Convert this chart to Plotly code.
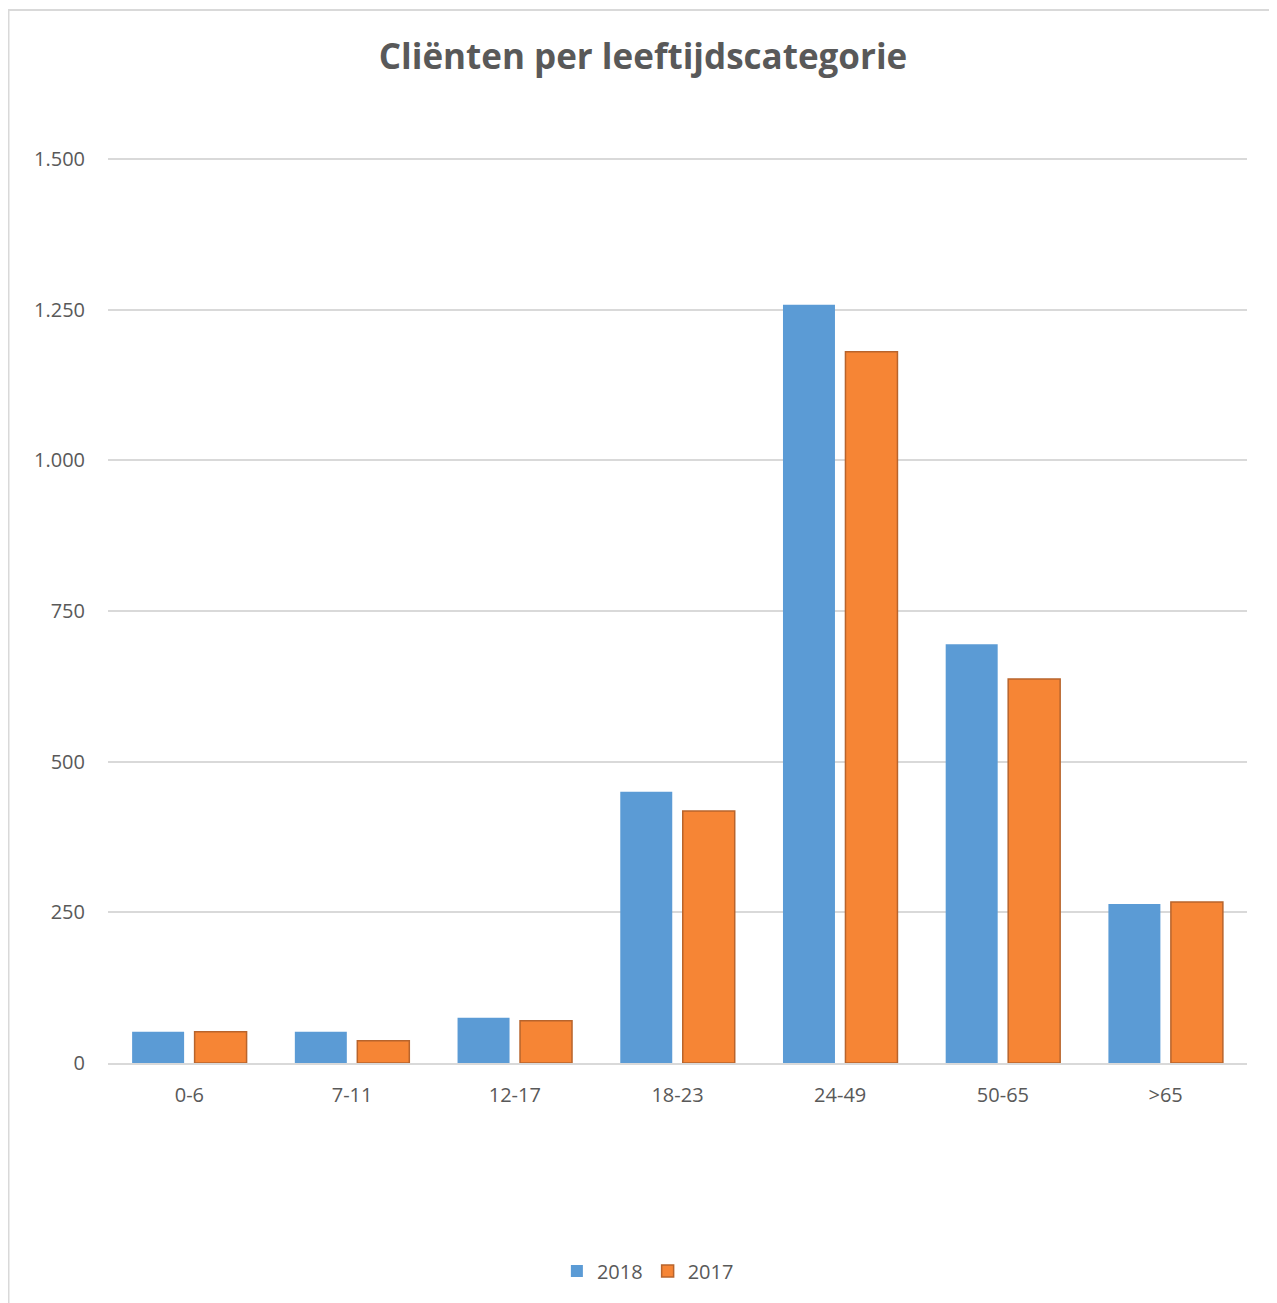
import plotly.graph_objects as go

categories = ["0-6", "7-11", "12-17", "18-23", "24-49", "50-65", ">65"]
values_2018 = [52, 52, 75, 450, 1258, 695, 264]
values_2017 = [52, 37, 70, 418, 1180, 637, 267]
y_ticks = [0, 250, 500, 750, 1000, 1250, 1500]
title_text = "Cliënten per leeftijdscategorie"

# page body has an 8px margin: figure coordinates = page coordinates - 8
W, H = 1269, 1295
L, R, T, B = 100, 30, 145, 240
PW, PH = W - L - R, H - T - B

fig = go.Figure()
fig.add_trace(go.Bar(
    name="2018", x=categories, y=values_2018,
    marker=dict(color="#5b9bd5", line=dict(width=0)),
))
fig.add_trace(go.Bar(
    name="2017", x=categories, y=values_2017,
    marker=dict(color="#f68535", line=dict(color="#b8642c", width=1.5)),
))

fig.update_layout(
    width=W, height=H,
    margin=dict(l=L, r=R, t=T, b=B, autoexpand=False),
    paper_bgcolor="white", plot_bgcolor="white",
    separators=",.",
    barmode="group", bargap=0.232, bargroupgap=0.168,
    title=dict(text=title_text, x=(643 - 8 - L) / PW, xref="paper", xanchor="center",
               y=1 - (57 - 8) / H, yanchor="middle",
               font=dict(family="Open Sans", size=35, color="#595959", weight="bold")),
    font=dict(family="Open Sans", size=20, color="#595959"),
    showlegend=True,
    legend=dict(orientation="h", x=0.474, xanchor="center", y=-(1271 - 1063) / PH, yanchor="middle",
                font=dict(family="Open Sans", size=20, color="#595959"), itemwidth=30,
                traceorder="normal"),
    xaxis=dict(showgrid=False, showline=True, linecolor="#d9d9d9", linewidth=1.5,
               ticks="", ticklabelstandoff=13, tickfont=dict(size=20)),
    yaxis=dict(range=[0, 1510], tickvals=y_ticks, tickformat=",d",
               showgrid=True, gridcolor="#d9d9d9", gridwidth=1.5,
               zeroline=False, showline=False, ticks="", ticklabelstandoff=22,
               tickfont=dict(size=20)),
    shapes=[dict(type="rect", xref="paper", yref="paper",
                 x0=-(L - 0.5) / PW, x1=(W + 20 - L) / PW,
                 y0=-(B + 20) / PH, y1=1 + (T - 2) / PH,
                 line=dict(color="#d9d9d9", width=2), fillcolor="rgba(0,0,0,0)", layer="below")],
)

fig.write_html("out.html")
